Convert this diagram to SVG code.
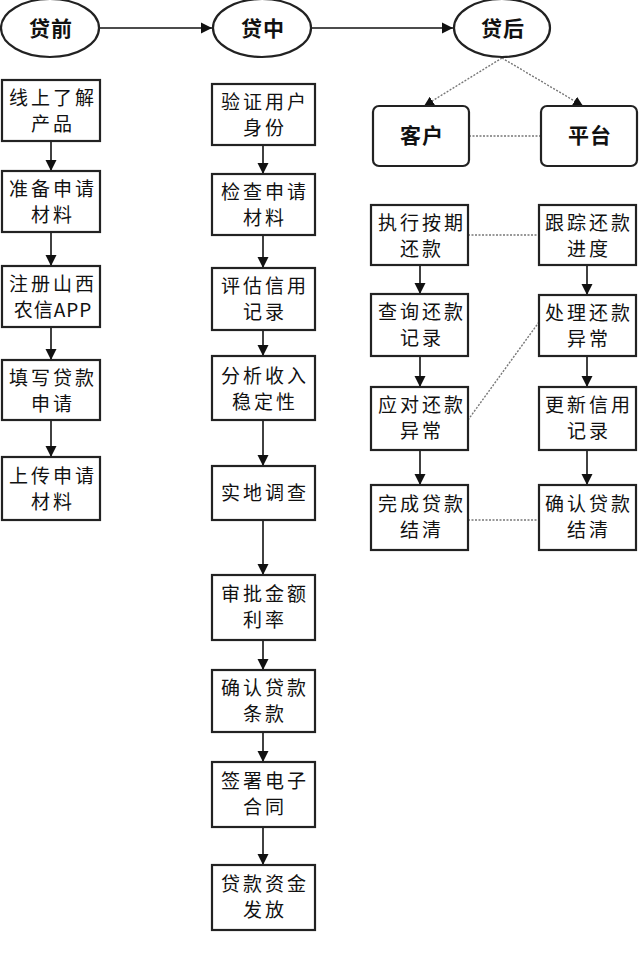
<svg xmlns="http://www.w3.org/2000/svg" width="640" height="965" viewBox="0 0 640 965">
<defs>
<style>
.b{fill:#fff;stroke:#222;stroke-width:2.2}
.t{font-family:"Noto Sans CJK SC","Liberation Serif",serif;font-size:19px;letter-spacing:3px;fill:#111;text-anchor:middle}
.h{font-size:21px;font-weight:bold;letter-spacing:1px}
.c{stroke:#111;stroke-width:1.6;fill:none}
.d{stroke:#777;stroke-width:1.4;stroke-dasharray:2 1.5;fill:none}
</style>
<marker id="a" viewBox="0 0 10 10" refX="10" refY="5" markerWidth="7" markerHeight="7" orient="auto"><path d="M0,0L10,5L0,10z" fill="#111"/></marker>
</defs>
<rect width="640" height="965" fill="#fff"/>
<g id="connectors">
<line class="c" x1="99" y1="28" x2="212" y2="28" marker-end="url(#a)"/>
<line class="c" x1="311" y1="28" x2="453" y2="28" marker-end="url(#a)"/>
<line class="c" x1="51" y1="141" x2="51" y2="171" marker-end="url(#a)"/>
<line class="c" x1="51" y1="232" x2="51" y2="266" marker-end="url(#a)"/>
<line class="c" x1="51" y1="327" x2="51" y2="360" marker-end="url(#a)"/>
<line class="c" x1="51" y1="420" x2="51" y2="457" marker-end="url(#a)"/>
<line class="c" x1="263" y1="145" x2="263" y2="174" marker-end="url(#a)"/>
<line class="c" x1="263" y1="235" x2="263" y2="268" marker-end="url(#a)"/>
<line class="c" x1="263" y1="330" x2="263" y2="356" marker-end="url(#a)"/>
<line class="c" x1="263" y1="420" x2="263" y2="466" marker-end="url(#a)"/>
<line class="c" x1="263" y1="520" x2="263" y2="575" marker-end="url(#a)"/>
<line class="c" x1="263" y1="640" x2="263" y2="670" marker-end="url(#a)"/>
<line class="c" x1="263" y1="732" x2="263" y2="762" marker-end="url(#a)"/>
<line class="c" x1="263" y1="827" x2="263" y2="865" marker-end="url(#a)"/>
<line class="c" x1="420" y1="265" x2="420" y2="294" marker-end="url(#a)"/>
<line class="c" x1="420" y1="356" x2="420" y2="387" marker-end="url(#a)"/>
<line class="c" x1="420" y1="450" x2="420" y2="485" marker-end="url(#a)"/>
<line class="c" x1="587" y1="265" x2="587" y2="295" marker-end="url(#a)"/>
<line class="c" x1="587" y1="356" x2="587" y2="387" marker-end="url(#a)"/>
<line class="c" x1="587" y1="450" x2="587" y2="485" marker-end="url(#a)"/>
<line class="d" x1="502" y1="58" x2="424" y2="106" marker-end="url(#a)"/>
<line class="d" x1="502" y1="58" x2="583" y2="106" marker-end="url(#a)"/>
<line class="d" x1="469" y1="136" x2="541" y2="136"/>
<line class="d" x1="468" y1="235" x2="539" y2="235"/>
<line class="d" x1="468" y1="420" x2="539" y2="322"/>
<line class="d" x1="468" y1="520" x2="539" y2="520"/>
</g>
<g id="n1"><ellipse class="b" cx="50" cy="28" rx="49" ry="29"/><text class="t h" x="51" y="36">贷前</text></g>
<g id="n2"><ellipse class="b" cx="262" cy="28" rx="49" ry="29"/><text class="t h" x="263" y="36">贷中</text></g>
<g id="n3"><ellipse class="b" cx="502" cy="28" rx="48" ry="29"/><text class="t h" x="503" y="36">贷后</text></g>
<g id="l1"><rect class="b" x="2" y="80" width="98" height="61"/><text class="t" x="53" y="105">线上了解</text><text class="t" x="53" y="131">产品</text></g>
<g id="l2"><rect class="b" x="2" y="171" width="98" height="61"/><text class="t" x="53" y="196">准备申请</text><text class="t" x="53" y="222">材料</text></g>
<g id="l3"><rect class="b" x="2" y="266" width="98" height="61"/><text class="t" x="53" y="291">注册山西</text><text class="t" x="53" y="317" style="letter-spacing:1px">农信APP</text></g>
<g id="l4"><rect class="b" x="2" y="360" width="98" height="60"/><text class="t" x="53" y="385">填写贷款</text><text class="t" x="53" y="411">申请</text></g>
<g id="l5"><rect class="b" x="2" y="457" width="98" height="63"/><text class="t" x="53" y="483">上传申请</text><text class="t" x="53" y="509">材料</text></g>
<g id="m1"><rect class="b" x="212" y="84" width="103" height="61"/><text class="t" x="265" y="109">验证用户</text><text class="t" x="265" y="135">身份</text></g>
<g id="m2"><rect class="b" x="212" y="174" width="103" height="61"/><text class="t" x="265" y="199">检查申请</text><text class="t" x="265" y="225">材料</text></g>
<g id="m3"><rect class="b" x="212" y="268" width="103" height="62"/><text class="t" x="265" y="293">评估信用</text><text class="t" x="265" y="319">记录</text></g>
<g id="m4"><rect class="b" x="212" y="356" width="103" height="64"/><text class="t" x="265" y="383">分析收入</text><text class="t" x="265" y="409">稳定性</text></g>
<g id="m5"><rect class="b" x="212" y="466" width="103" height="54"/><text class="t" x="265" y="500">实地调查</text></g>
<g id="m6"><rect class="b" x="212" y="575" width="103" height="65"/><text class="t" x="265" y="601">审批金额</text><text class="t" x="265" y="627">利率</text></g>
<g id="m7"><rect class="b" x="212" y="670" width="103" height="62"/><text class="t" x="265" y="695">确认贷款</text><text class="t" x="265" y="721">条款</text></g>
<g id="m8"><rect class="b" x="212" y="762" width="103" height="65"/><text class="t" x="265" y="788">签署电子</text><text class="t" x="265" y="814">合同</text></g>
<g id="m9"><rect class="b" x="212" y="865" width="103" height="65"/><text class="t" x="265" y="891">贷款资金</text><text class="t" x="265" y="917">发放</text></g>
<g id="r0a"><rect class="b" x="373" y="106" width="96" height="60" rx="6"/><text class="t h" x="422" y="143">客户</text></g>
<g id="r0b"><rect class="b" x="541" y="106" width="96" height="60" rx="6"/><text class="t h" x="590" y="143">平台</text></g>
<g id="r1"><rect class="b" x="371" y="205" width="97" height="60"/><text class="t" x="422" y="230">执行按期</text><text class="t" x="422" y="256">还款</text></g>
<g id="r2"><rect class="b" x="371" y="294" width="97" height="62"/><text class="t" x="422" y="319">查询还款</text><text class="t" x="422" y="345">记录</text></g>
<g id="r3"><rect class="b" x="371" y="387" width="97" height="63"/><text class="t" x="422" y="412">应对还款</text><text class="t" x="422" y="438">异常</text></g>
<g id="r4"><rect class="b" x="371" y="485" width="97" height="65"/><text class="t" x="422" y="511">完成贷款</text><text class="t" x="422" y="537">结清</text></g>
<g id="s1"><rect class="b" x="539" y="205" width="97" height="60"/><text class="t" x="589" y="230">跟踪还款</text><text class="t" x="589" y="256">进度</text></g>
<g id="s2"><rect class="b" x="539" y="295" width="97" height="61"/><text class="t" x="589" y="320">处理还款</text><text class="t" x="589" y="346">异常</text></g>
<g id="s3"><rect class="b" x="539" y="387" width="97" height="63"/><text class="t" x="589" y="412">更新信用</text><text class="t" x="589" y="438">记录</text></g>
<g id="s4"><rect class="b" x="539" y="485" width="97" height="65"/><text class="t" x="589" y="511">确认贷款</text><text class="t" x="589" y="537">结清</text></g>
</svg>
